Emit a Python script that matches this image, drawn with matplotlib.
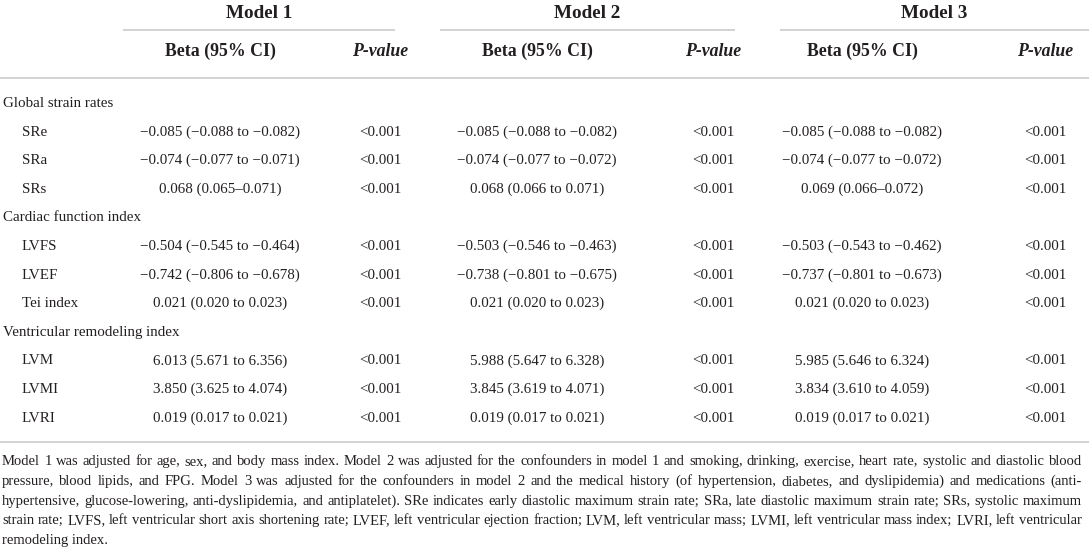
import matplotlib
matplotlib.use("Agg")
import matplotlib.pyplot as plt
from matplotlib.font_manager import FontProperties

plt.rcParams["font.family"] = ["Liberation Serif", "DejaVu Serif"]

# ── Table content ─────────────────────────────────────────────────────────────
models = ["Model 1", "Model 2", "Model 3"]

groups = ["Global strain rates", "Cardiac function index", "Ventricular remodeling index"]
row_labels = [
    ["SRe", "SRa", "SRs"],
    ["LVFS", "LVEF", "Tei index"],
    ["LVM", "LVMI", "LVRI"],
]

beta_m1 = [
    "−0.085 (−0.088 to −0.082)", "−0.074 (−0.077 to −0.071)", "0.068 (0.065–0.071)",
    "−0.504 (−0.545 to −0.464)", "−0.742 (−0.806 to −0.678)", "0.021 (0.020 to 0.023)",
    "6.013 (5.671 to 6.356)", "3.850 (3.625 to 4.074)", "0.019 (0.017 to 0.021)",
]
beta_m2 = [
    "−0.085 (−0.088 to −0.082)", "−0.074 (−0.077 to −0.072)", "0.068 (0.066 to 0.071)",
    "−0.503 (−0.546 to −0.463)", "−0.738 (−0.801 to −0.675)", "0.021 (0.020 to 0.023)",
    "5.988 (5.647 to 6.328)", "3.845 (3.619 to 4.071)", "0.019 (0.017 to 0.021)",
]
beta_m3 = [
    "−0.085 (−0.088 to −0.082)", "−0.074 (−0.077 to −0.072)", "0.069 (0.066–0.072)",
    "−0.503 (−0.543 to −0.462)", "−0.737 (−0.801 to −0.673)", "0.021 (0.020 to 0.023)",
    "5.985 (5.646 to 6.324)", "3.834 (3.610 to 4.059)", "0.019 (0.017 to 0.021)",
]
p_m1 = ["<0.001"] * 9
p_m2 = ["<0.001"] * 9
p_m3 = ["<0.001"] * 9

footnote = [
    "Model 1 was adjusted for age, sex, and body mass index. Model 2 was adjusted for the confounders in model 1 and smoking, drinking, exercise, heart rate, systolic and diastolic blood",
    "pressure, blood lipids, and FPG. Model 3 was adjusted for the confounders in model 2 and the medical history (of hypertension, diabetes, and dyslipidemia) and medications (anti-",
    "hypertensive, glucose-lowering, anti-dyslipidemia, and antiplatelet). SRe indicates early diastolic maximum strain rate; SRa, late diastolic maximum strain rate; SRs, systolic maximum",
    "strain rate; LVFS, left ventricular short axis shortening rate; LVEF, left ventricular ejection fraction; LVM, left ventricular mass; LVMI, left ventricular mass index; LVRI, left ventricular",
    "remodeling index.",
]

# ── Layout (pixel coordinates, y downwards; y values are text baselines) ─────
W, H = 1089, 550
TXT = "#231f20"
RULE = "#cfcfcf"
spans = [(123, 395), (440, 735), (780, 1089)]
beta_x = [220, 537, 862]
p_x = [380, 713, 1045]
row0, row_step = 107, 28.6
foot_y0, foot_step = 465, 19.8
foot_x0, foot_x1 = 2, 1082
body_fs = 10.8
foot_fs = 10.5

fig = plt.figure(figsize=(W / 100, H / 100), dpi=100)
ax = fig.add_axes([0, 0, 1, 1])
ax.set_xlim(0, W)
ax.set_ylim(H, 0)
ax.axis("off")

# ── Header ───────────────────────────────────────────────────────────────────
for name, (x0, x1), bx, px in zip(models, spans, beta_x, p_x):
    ax.text((x0 + x1) / 2, 18.5, name, ha="center", va="baseline",
            fontsize=13.8, fontweight="bold", color=TXT)
    ax.plot([x0, x1], [29.5, 29.5], color=RULE, lw=1.3, solid_capstyle="butt")
    ax.text(bx, 56, "Beta (95% CI)", ha="center", va="baseline",
            fontsize=12.8, fontweight="bold", color=TXT)
    ax.text(px, 56, "P-value", ha="center", va="baseline",
            fontsize=12.8, fontweight="bold", style="italic", color=TXT)
ax.plot([0, W], [77.5, 77.5], color=RULE, lw=1.3, solid_capstyle="butt")

# ── Body ─────────────────────────────────────────────────────────────────────
betas = [beta_m1, beta_m2, beta_m3]
pvals = [p_m1, p_m2, p_m3]
line_i = 0
k = 0
for g, labels in zip(groups, row_labels):
    y = row0 + line_i * row_step
    ax.text(3, y, g, ha="left", va="baseline", fontsize=body_fs, color=TXT)
    line_i += 1
    for lab in labels:
        y = row0 + line_i * row_step
        ax.text(22, y, lab, ha="left", va="baseline", fontsize=body_fs, color=TXT)
        for m in range(3):
            ax.text(beta_x[m], y, betas[m][k], ha="center", va="baseline",
                    fontsize=body_fs, color=TXT)
            ax.text(p_x[m], y, pvals[m][k], ha="center", va="baseline",
                    fontsize=body_fs, color=TXT)
        k += 1
        line_i += 1
ax.plot([0, W], [442, 442], color=RULE, lw=1.3, solid_capstyle="butt")

# ── Footnote (justified) ─────────────────────────────────────────────────────
renderer = fig.canvas.get_renderer()
prop = FontProperties(family=["Liberation Serif"], size=foot_fs)
space_w = renderer.get_text_width_height_descent("a b", prop, ismath=False)[0] - \
    renderer.get_text_width_height_descent("ab", prop, ismath=False)[0]
for i, line in enumerate(footnote):
    y = foot_y0 + i * foot_step
    words = line.split(" ")
    if i == len(footnote) - 1:
        ax.text(foot_x0, y, line, ha="left", va="baseline", fontsize=foot_fs, color=TXT)
        continue
    widths = [renderer.get_text_width_height_descent(w_, prop, ismath=False)[0]
              for w_ in words]
    gap = max((foot_x1 - foot_x0 - sum(widths)) / (len(words) - 1), space_w * 0.8)
    x = foot_x0
    for w_, wd in zip(words, widths):
        ax.text(x, y, w_, ha="left", va="baseline", fontsize=foot_fs, color=TXT)
        x += wd + gap

fig.savefig("out.png", dpi=100)
